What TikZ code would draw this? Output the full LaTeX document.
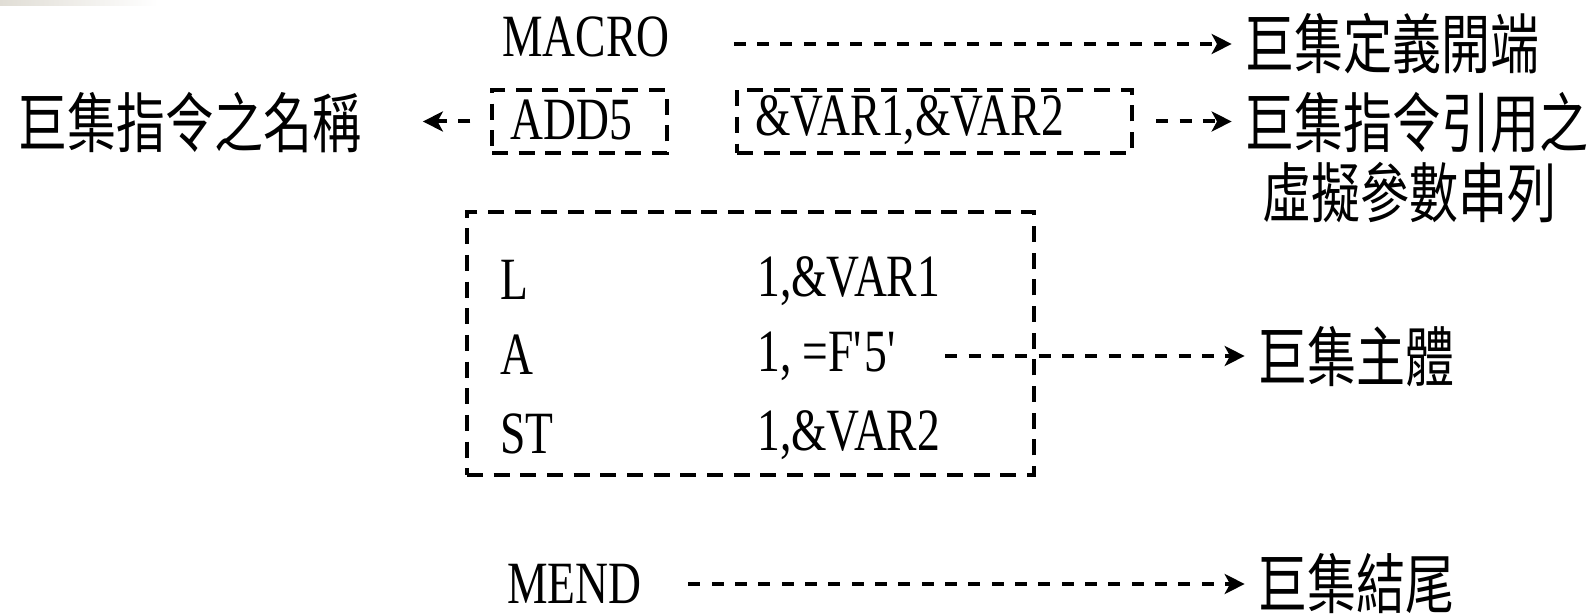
\documentclass[tikz,border=0pt]{standalone}
\usepackage{fontspec}
\setmainfont{Liberation Serif}
\newfontfamily\lat[FakeStretch=0.76]{Liberation Serif}
\newfontfamily\cjk[FakeStretch=0.75]{Noto Sans CJK TC}
\usetikzlibrary{arrows.meta}
\definecolor{barcol}{RGB}{224,221,213}
\tikzset{
  lt/.style={inner sep=0pt, anchor=west, font=\lat\fontsize{45pt}{50pt}\selectfont},
  ct/.style={inner sep=0pt, anchor=west, font=\cjk\fontsize{49pt}{54pt}\selectfont},
  arr/.style={line width=3pt, dash pattern=on 9pt off 8.5pt, -{Stealth[length=15pt,width=15pt,inset=4pt]}},
  dbox/.style={draw, line width=2.3pt, dash pattern=on 12pt off 8pt, inner sep=0pt}
}
\begin{document}
\begin{tikzpicture}[x=0.75pt,y=-0.75pt]
\useasboundingbox (0,0) rectangle (1596,616);
\shade[left color=barcol, right color=white] (0,0) rectangle (158,6);
% top line
\node[lt] (macro) at (502,37) {MACRO};
\node[ct] (def) at (1245,44) {巨集定義開端};
% second line
\node[ct] (name) at (18,123) {巨集指令之名稱};
\node[dbox, minimum width=131.25pt, minimum height=47.25pt] (add5box) at (579.5,121.5) {};
\node[dbox, minimum width=296.25pt, minimum height=47.25pt] (varbox) at (934.5,121.5) {};
\node[lt] (add5) at (510,120) {ADD5};
\node[lt] (vars) at (755,120) {\&VAR1,\&VAR2};
\node[ct] (ref1) at (1245,123) {巨集指令引用之};
\node[ct] (ref2) at (1262,193) {虛擬參數串列};
% body
\node[dbox, minimum width=425.25pt, minimum height=197.25pt] (bodybox) at (750.5,343.5) {};
\node[lt] (opL) at (500,280) {L};
\node[lt] (argL) at (757,281) {1,\&VAR1};
\node[lt] (opA) at (500,355) {A};
\node[lt] (argA) at (757,356) {1, =F\textquotesingle5\textquotesingle};
\node[lt] (opST) at (500,434) {ST};
\node[lt] (argST) at (757,435) {1,\&VAR2};
\node[ct] (body) at (1258,357) {巨集主體};
% end
\node[lt] (mend) at (507,584) {MEND};
\node[ct] (endt) at (1258,584) {巨集結尾};
% connectors
\draw[arr, shorten <=48pt, shorten >=10pt] (def.west -| macro.east) -- (def.west);
\draw[arr, shorten <=15pt, shorten >=46pt] (add5box.west) -- (add5box.west -| name.east);
\draw[arr, shorten <=17pt, shorten >=10pt] (varbox.east) -- (varbox.east -| ref1.west);
\draw[arr, shorten <=35pt, shorten >=10pt] (argA.east) -- (argA.east -| body.west);
\draw[arr, shorten <=35pt, shorten >=10pt] (mend.east) -- (mend.east -| endt.west);
\end{tikzpicture}
\end{document}
